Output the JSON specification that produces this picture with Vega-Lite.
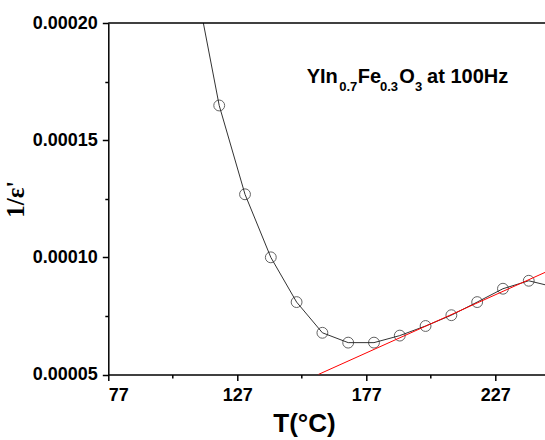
{
  "$schema": "https://vega.github.io/schema/vega-lite/v6.json",
  "width": 436.7,
  "height": 351.5,
  "autosize": "none",
  "padding": {"left": 108.3, "top": 23, "right": 0, "bottom": 65.5},
  "background": "white",
  "config": {
    "view": {"stroke": null},
    "axis": {
      "grid": false,
      "domainColor": "black",
      "tickColor": "black",
      "domainWidth": 1.5,
      "tickWidth": 1.5,
      "labelColor": "black",
      "titleColor": "black",
      "labelFont": "Liberation Sans",
      "labelFontWeight": "bold",
      "labelFontSize": 18
    }
  },
  "datasets": {
    "curve": [
      {"T": 110, "v": 0.000222},
      {"T": 120, "v": 0.0001648},
      {"T": 130, "v": 0.0001269},
      {"T": 140, "v": 0.0001000},
      {"T": 150, "v": 0.0000809},
      {"T": 160, "v": 0.0000678},
      {"T": 170, "v": 0.0000636},
      {"T": 180, "v": 0.0000636},
      {"T": 190, "v": 0.0000666},
      {"T": 200, "v": 0.0000707},
      {"T": 210, "v": 0.0000753},
      {"T": 220, "v": 0.0000809},
      {"T": 230, "v": 0.0000866},
      {"T": 240, "v": 0.0000900},
      {"T": 250, "v": 0.0000873}
    ],
    "points": [
      {"T": 120, "v": 0.0001648},
      {"T": 130, "v": 0.0001269},
      {"T": 140, "v": 0.0001000},
      {"T": 150, "v": 0.0000809},
      {"T": 160, "v": 0.0000678},
      {"T": 170, "v": 0.0000636},
      {"T": 180, "v": 0.0000636},
      {"T": 190, "v": 0.0000666},
      {"T": 200, "v": 0.0000707},
      {"T": 210, "v": 0.0000753},
      {"T": 220, "v": 0.0000809},
      {"T": 230, "v": 0.0000866},
      {"T": 240, "v": 0.0000900}
    ],
    "fit": [
      {"T": 158.4, "v": 0.00005},
      {"T": 250, "v": 0.0000954}
    ],
    "mainText": [
      {"T": 153.9, "v": 0.0001742, "label": "YIn"},
      {"T": 173.7, "v": 0.0001742, "label": "Fe"},
      {"T": 189.8, "v": 0.0001742, "label": "O"},
      {"T": 200.6, "v": 0.0001742, "label": "at 100Hz"}
    ],
    "subText": [
      {"T": 166.5, "v": 0.0001711, "label": "0.7"},
      {"T": 182.3, "v": 0.0001711, "label": "0.3"},
      {"T": 195.9, "v": 0.0001711, "label": "3"}
    ]
  },
  "resolve": {"axis": {"x": "independent", "y": "independent"}},
  "layer": [
    {
      "data": {"name": "curve"},
      "mark": {"type": "line", "color": "#333333", "strokeWidth": 1, "clip": true},
      "encoding": {
        "x": {
          "field": "T", "type": "quantitative",
          "scale": {"domain": [77, 246.3], "nice": false, "zero": false},
          "axis": {
            "orient": "bottom",
            "values": [77, 127, 177, 227],
            "tickSize": 6,
            "labelPadding": 6,
            "title": "T(°C)",
            "titleFont": "Liberation Sans",
            "titleFontWeight": "bold",
            "titleFontSize": 26,
            "titleX": 195.7,
            "titleY": 57.2,
            "titleBaseline": "alphabetic",
            "titleAlign": "center"
          }
        },
        "y": {
          "field": "v", "type": "quantitative",
          "scale": {"domain": [0.00005, 0.0002], "nice": false, "zero": false},
          "axis": {
            "orient": "left",
            "values": [0.00005, 0.0001, 0.00015, 0.0002],
            "format": ".5f",
            "tickSize": 6,
            "labelPadding": 5,
            "title": "1/ε'",
            "titleFont": "Liberation Serif",
            "titleFontWeight": "bold",
            "titleFontSize": 25,
            "titlePadding": 4
          }
        }
      }
    },
    {
      "data": {"name": "points"},
      "mark": {"type": "point", "shape": "circle", "filled": false, "size": 118, "stroke": "#222222", "strokeWidth": 1, "clip": true},
      "encoding": {
        "x": {
          "field": "T", "type": "quantitative",
          "axis": {
            "orient": "bottom",
            "values": [102, 152, 202],
            "tickSize": 3.5,
            "labels": false,
            "domain": false,
            "title": null
          }
        },
        "y": {
          "field": "v", "type": "quantitative",
          "axis": {
            "orient": "left",
            "values": [0.000075, 0.000125, 0.000175],
            "tickSize": 3.5,
            "labels": false,
            "domain": false,
            "title": null
          }
        }
      }
    },
    {
      "data": {"name": "fit"},
      "mark": {"type": "line", "color": "#ff0000", "strokeWidth": 1, "clip": true},
      "encoding": {
        "x": {"field": "T", "type": "quantitative", "axis": null},
        "y": {"field": "v", "type": "quantitative", "axis": null}
      }
    },
    {
      "data": {"values": [{}]},
      "mark": {"type": "rule", "color": "black", "strokeWidth": 1.5},
      "encoding": {
        "y": {"datum": 0.0002, "type": "quantitative", "axis": null}
      }
    },
    {
      "data": {"name": "mainText"},
      "mark": {"type": "text", "align": "left", "baseline": "alphabetic", "font": "Liberation Sans", "fontWeight": "bold", "fontSize": 20, "color": "black"},
      "encoding": {
        "x": {"field": "T", "type": "quantitative", "axis": null},
        "y": {"field": "v", "type": "quantitative", "axis": null},
        "text": {"field": "label"}
      }
    },
    {
      "data": {"name": "subText"},
      "mark": {"type": "text", "align": "left", "baseline": "alphabetic", "font": "Liberation Sans", "fontWeight": "bold", "fontSize": 13, "color": "black"},
      "encoding": {
        "x": {"field": "T", "type": "quantitative", "axis": null},
        "y": {"field": "v", "type": "quantitative", "axis": null},
        "text": {"field": "label"}
      }
    }
  ]
}
